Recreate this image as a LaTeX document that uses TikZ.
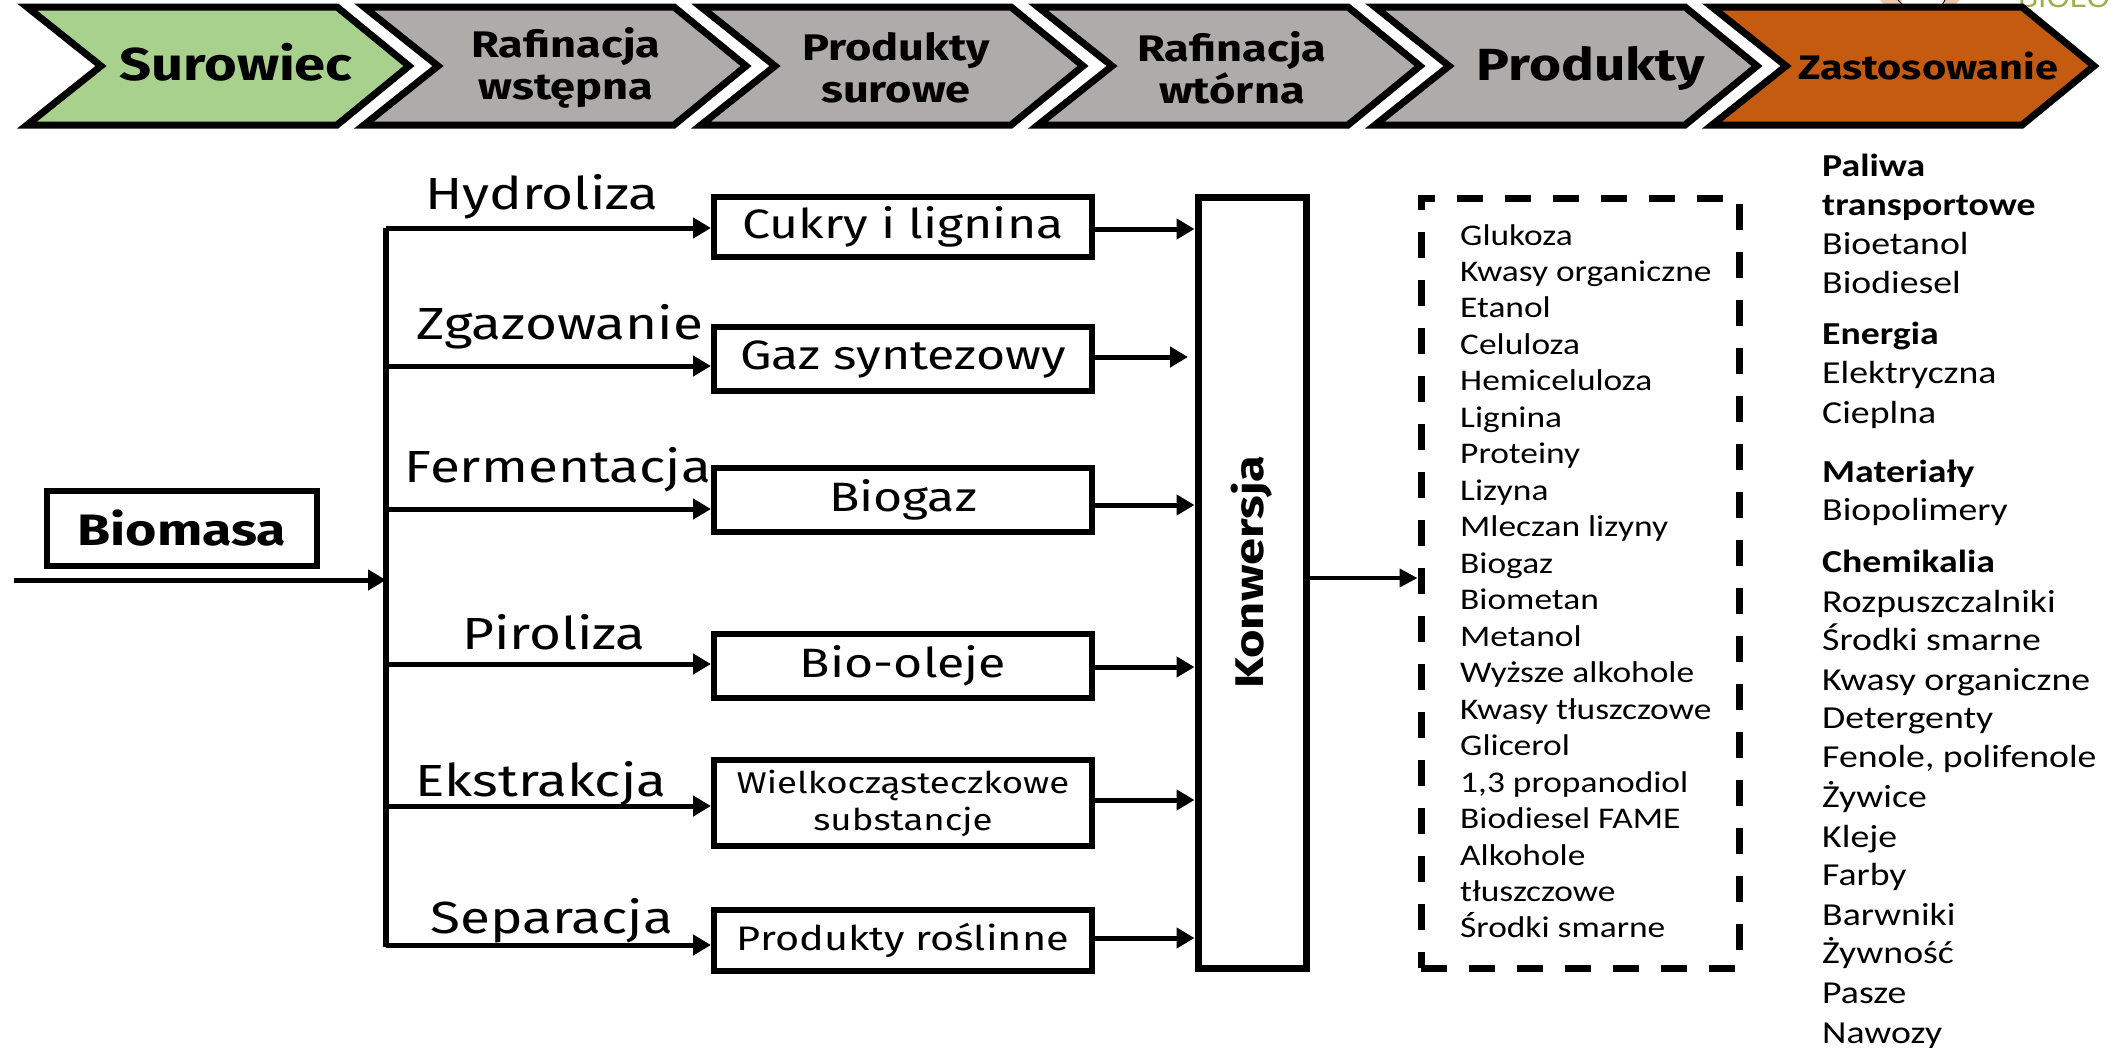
\documentclass[tikz,border=0pt]{standalone}
\usepackage{fontspec}
\setmainfont{Carlito}
\newfontfamily\cfont[FakeStretch=1.22]{Fira Sans}
\newfontfamily\lfont[FakeStretch=1.18]{Carlito}
\usetikzlibrary{arrows.meta}
\definecolor{cgreen}{HTML}{A9D18E}
\definecolor{cgrey}{HTML}{AFABAB}
\definecolor{corange}{HTML}{C55A11}
\definecolor{olivelogo}{HTML}{9BAF46}
\definecolor{beigelogo}{HTML}{EFC9AF}
\begin{document}
\begin{tikzpicture}[x=1pt,y=-1pt,
  chev/.style={draw=black,line width=7pt,line join=miter},
  ctext/.style={font=\cfont\bfseries\fontsize{37}{42}\selectfont,align=center,inner sep=0pt},
  box/.style={draw=black,line width=6pt,inner sep=0pt,fill=white,align=center,
              minimum width=378pt,font=\cfont\fontsize{41}{41}\selectfont},
  lbl/.style={font=\cfont\fontsize{45}{45}\selectfont,inner sep=0pt},
  arr/.style={line width=5pt,-{Triangle[length=18pt,width=20pt]}},
  item/.style={font=\lfont\fontsize{30}{36}\selectfont,anchor=base west,inner sep=0pt},
  ritem/.style={font=\lfont\fontsize{32}{39}\selectfont,anchor=base west,inner sep=0pt},
]
\useasboundingbox[fill=white] (0,0) rectangle (2111,1047);

% logo fragment (clipped at top edge)
\begin{scope}
\clip (0,0) rectangle (2111,1047);
\fill[beigelogo] (1880,0) -- (1902,0) -- (1898,7) -- (1886,7) -- cycle;
\fill[beigelogo] (1945,0) -- (1960,0) -- (1952,7) -- (1944,7) -- cycle;
\draw[line width=1pt] (1898,0) -- (1905,7);
\draw[line width=1pt] (1945,0) -- (1941,7);
\node[anchor=base west,inner sep=0pt,text=olivelogo,font=\fontspec{Liberation Sans}\fontsize{30}{30}\selectfont] (logo) at (2018,7) {BIOLOG};
\end{scope}

% chevrons
\foreach \L/\c in {27/cgreen,364/cgrey,701/cgrey,1038/cgrey,1375/cgrey,1712/corange}
  \draw[chev,fill=\c] (\L,7) -- ++(310,0) -- ++(72,59) -- ++(-72,59) -- ++(-310,0) -- ++(74,-59) -- cycle;
\node[ctext,font=\cfont\bfseries\fontsize{46}{46}\selectfont] (t1) at (236,62) {Surowiec};
\node[ctext] (t2) at (566,68) {Rafinacja\\wstępna};
\node[ctext] (t3) at (896,68) {Produkty\\surowe};
\node[ctext] (t4) at (1232,68) {Rafinacja\\wtórna};
\node[ctext,font=\cfont\bfseries\fontsize{45}{45}\selectfont] (t5) at (1591,68) {Produkty};
\node[ctext,font=\cfont\bfseries\fontsize{34}{34}\selectfont] (t6) at (1928,66) {Zastosowanie};

% Biomasa
\node[draw=black,line width=6pt,minimum width=270pt,minimum height=75pt,inner sep=0pt,
      font=\cfont\bfseries\fontsize{44}{44}\selectfont] (bio) at (182,528) {Biomasa};

% bus
\coordinate (bustop) at (386,228);
\coordinate (busbot) at (386,947);
\coordinate (in) at (14,580);
\draw[line width=6pt] (bustop) -- (busbot);
\draw[arr] (in) -- (in -| bustop);

% product boxes
\node[box,minimum height=60pt] (cukry) at (903,227) {Cukry i lignina};
\node[box,minimum height=64pt] (gaz) at (903,359) {Gaz syntezowy};
\node[box,minimum height=64pt] (biogaz) at (903,500) {Biogaz};
\node[box,minimum height=64pt] (olej) at (903,666) {Bio-oleje};
\node[box,minimum height=86pt,font=\cfont\fontsize{30}{37}\selectfont] (wielk) at (903,803) {Wielkocząsteczkowe\\substancje};
\node[box,minimum height=61pt,font=\cfont\fontsize{34}{34}\selectfont] (rosl) at (903,940) {Produkty roślinne};

% process labels
\node[lbl] (l1) at (542,197) {Hydroliza};
\node[lbl] (l2) at (560,327) {Zgazowanie};
\node[lbl] (l3) at (558,470) {Fermentacja};
\node[lbl] (l4) at (554,632) {Piroliza};
\node[lbl] (l5) at (541,784) {Ekstrakcja};
\node[lbl] (l6) at (552,921) {Separacja};

% branch arrows
\coordinate (b1) at (386,228);
\coordinate (b2) at (386,366);
\coordinate (b3) at (386,509);
\coordinate (b4) at (386,664);
\coordinate (b5) at (386,806);
\coordinate (b6) at (386,945);
\draw[arr] (b1) -- (b1 -| cukry.west);
\draw[arr] (b2) -- (b2 -| gaz.west);
\draw[arr] (b3) -- (b3 -| biogaz.west);
\draw[arr] (b4) -- (b4 -| olej.west);
\draw[arr] (b5) -- (b5 -| wielk.west);
\draw[arr] (b6) -- (b6 -| rosl.west);

% Konwersja
\node[draw=black,line width=7pt,minimum width=108pt,minimum height=771pt,inner sep=0pt] (konw) at (1252,583) {};
\node[rotate=90,inner sep=0pt,font=\cfont\bfseries\fontsize{40}{40}\selectfont] (konwt) at (1252,572) {Konwersja};

% outputs into Konwersja
\coordinate (o1) at (1092,229);
\coordinate (o2) at (1092,357);
\coordinate (o3) at (1092,505);
\coordinate (o4) at (1092,667);
\coordinate (o5) at (1092,800);
\coordinate (o6) at (1092,938);
\coordinate (o2end) at (1188,357);
\draw[arr] (o1) -- (o1 -| konw.west);
\draw[arr] (o2) -- (o2end);
\draw[arr] (o3) -- (o3 -| konw.west);
\draw[arr] (o4) -- (o4 -| konw.west);
\draw[arr] (o5) -- (o5 -| konw.west);
\draw[arr] (o6) -- (o6 -| konw.west);

% dashed product box
\node[draw=black,line width=7pt,dash pattern=on 26pt off 22pt,minimum width=318pt,minimum height=770pt,inner sep=0pt] (dash) at (1580,583) {};
\draw[line width=4pt,-{Triangle[length=18pt,width=18pt]}] (konw.east |- 0,578) -- (dash.west |- 0,578);

% product list
\foreach \t [count=\i from 0] in {Glukoza,Kwasy organiczne,Etanol,Celuloza,Hemiceluloza,Lignina,Proteiny,Lizyna,Mleczan lizyny,Biogaz,Biometan,Metanol,Wyższe alkohole,Kwasy tłuszczowe,Glicerol,{1,3 propanodiol},Biodiesel FAME,Alkohole,tłuszczowe,Środki smarne}
  \node[item] (p\i) at (1460,245+36.47*\i) {\t};

% applications
\foreach \yy/\t [count=\i] in {176/{\bfseries Paliwa},215/{\bfseries transportowe},254/Bioetanol,293/Biodiesel,
  344/{\bfseries Energia},383/Elektryczna,423/Cieplna,
  482/{\bfseries Materiały},520/Biopolimery,
  572/{\bfseries Chemikalia},612/Rozpuszczalniki,650/Środki smarne,690/Kwasy organiczne,728/Detergenty,
  767/{Fenole, polifenole},807/Żywice,847/Kleje,885/Farby,925/Barwniki,963/Żywność,1003/Pasze,1043/Nawozy}
  \node[ritem] (z\i) at (1822,\yy) {\t};
\end{tikzpicture}
\end{document}
